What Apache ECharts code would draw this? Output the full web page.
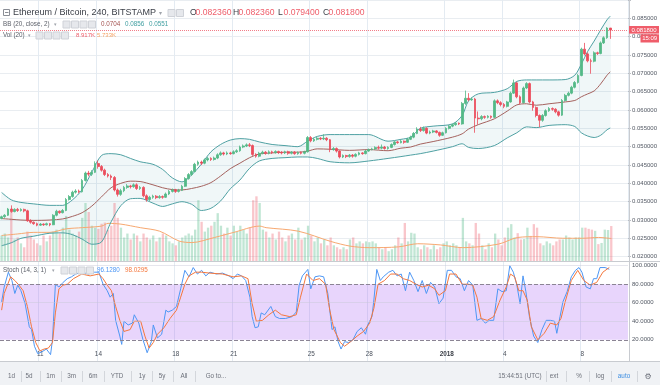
<!DOCTYPE html>
<html>
<head>
<meta charset="utf-8">
<script src="https://cdn.jsdelivr.net/npm/echarts@6/dist/echarts.min.js"></script>
<style>
html,body{margin:0;padding:0;background:#ffffff;}
#chart{width:660px;height:385px;}
</style>
</head>
<body>
<div id="chart"></div>
<script>
// ================= DATA =================
const symbolTitle = 'Ethereum / Bitcoin, 240, BITSTAMP';
const startTime = '2017-12-09T00:00:00Z';
const candleHours = 4;
const slotCount = 195;           // 190 candles + empty right margin
// candles in mBTC (x 0.001 BTC): [open, close, low, high]
const candles = [
[30.4,30.9,30.2,31.2],[30.9,31.3,30.6,31.6],[31.3,33.0,31.1,33.3],[33.0,32.3,32.0,34.0],[32.3,32.9,32.1,33.2],[32.9,32.6,32.2,33.3],
[32.6,32.9,32.3,33.2],[32.9,32.5,32.1,33.1],[32.5,29.8,29.5,32.8],[29.8,29.4,29.0,30.2],[29.4,29.0,28.7,29.6],[29.0,28.6,28.3,29.3],
[28.6,28.9,28.4,29.2],[28.9,28.7,28.4,29.1],[28.7,29.0,28.5,29.3],[29.0,28.7,28.3,29.2],[28.7,31.3,28.6,31.6],[31.3,32.4,31.0,32.8],
[32.4,32.0,31.7,32.6],[32.0,32.6,31.8,33.0],[32.6,35.6,32.4,36.0],[35.6,36.4,35.3,36.8],[36.4,37.6,36.1,38.0],[37.6,37.9,37.2,38.4],
[37.9,37.7,37.3,38.3],[37.7,40.8,37.5,41.2],[40.8,42.8,40.5,43.2],[42.8,42.5,41.9,43.4],[42.5,43.0,42.0,43.6],[43.0,45.4,42.8,46.0],
[45.4,44.6,44.0,46.2],[44.6,43.6,43.2,45.0],[43.6,42.4,42.0,44.0],[42.4,42.0,41.6,42.8],[42.0,41.6,40.9,42.4],[41.6,38.2,37.8,42.0],
[38.2,37.0,36.4,38.6],[37.0,38.0,36.6,38.5],[38.0,38.9,37.6,39.3],[38.9,39.3,38.5,39.8],[39.3,39.1,38.6,39.6],[39.1,39.6,38.8,40.0],
[39.6,38.6,38.2,40.0],[38.6,38.9,38.2,39.3],[38.9,36.6,36.2,39.2],[36.6,35.6,35.0,37.0],[35.6,36.2,35.2,36.6],[36.2,36.5,35.8,36.9],
[36.5,36.1,35.7,36.8],[36.1,36.4,35.8,36.8],[36.4,36.2,35.8,36.7],[36.2,37.1,36.0,37.5],[37.1,37.8,36.8,38.2],[37.8,38.2,37.5,38.6],
[38.2,37.8,37.4,38.5],[37.8,38.1,37.5,38.5],[38.1,39.2,37.9,39.6],[39.2,41.3,39.0,41.7],[41.3,42.4,41.0,42.8],[42.4,43.2,42.0,43.6],
[43.2,45.2,43.0,45.6],[45.2,45.8,44.8,46.2],[45.8,45.5,45.0,46.2],[45.5,46.4,45.2,46.8],[46.4,46.8,46.0,47.2],[46.8,46.5,46.1,47.1],
[46.5,46.9,46.2,47.3],[46.9,47.8,46.6,48.2],[47.8,48.3,47.5,48.7],[48.3,48.0,47.6,48.6],[48.0,48.3,47.7,48.7],[48.3,48.1,47.8,48.6],
[48.1,48.6,47.9,49.0],[48.6,48.9,48.3,49.3],[48.9,49.9,48.6,50.3],[49.9,50.2,49.6,50.6],[50.2,50.5,49.9,50.9],[50.5,50.3,49.9,51.0],
[50.3,47.9,47.5,50.6],[47.9,47.4,47.0,48.2],[47.4,48.2,47.1,48.6],[48.2,48.5,47.9,48.9],[48.5,48.2,47.8,48.8],[48.2,48.6,47.9,49.0],
[48.6,48.4,48.0,48.9],[48.4,48.7,48.1,49.0],[48.7,48.4,48.0,48.9],[48.4,48.3,47.9,48.8],[48.3,48.6,48.0,48.9],[48.6,48.2,47.8,48.9],
[48.2,48.5,47.9,48.8],[48.5,48.1,47.8,48.8],[48.1,48.4,47.8,48.7],[48.4,48.2,47.9,48.7],[48.2,48.6,47.9,48.9],[48.6,52.5,48.4,52.9],
[52.5,51.6,51.2,52.9],[51.6,52.0,51.3,52.4],[52.0,52.3,51.7,52.7],[52.3,52.1,51.8,52.6],[52.1,52.3,51.8,53.4],[52.3,51.9,51.5,52.6],
[51.9,49.2,48.5,52.1],[49.2,49.5,48.9,49.9],[49.5,48.8,48.4,49.8],[48.8,47.2,46.8,49.0],[47.2,47.6,46.9,47.9],[47.6,47.3,46.9,47.8],
[47.3,47.7,47.0,48.0],[47.7,47.4,47.0,48.0],[47.4,47.9,47.1,48.2],[47.9,48.3,47.6,48.6],[48.3,48.1,47.8,48.5],[48.1,48.8,47.9,49.1],
[48.8,49.2,48.6,49.5],[49.2,49.4,49.0,49.7],[49.4,49.8,49.1,50.1],[49.8,49.6,49.2,50.3],[49.6,49.9,49.3,50.6],[49.9,49.5,49.2,50.2],
[49.5,49.8,49.2,50.1],[49.8,50.6,49.6,50.9],[50.6,51.3,50.3,51.6],[51.3,51.1,50.8,51.6],[51.1,51.5,50.9,51.9],[51.5,51.2,50.8,51.7],
[51.2,52.0,51.0,52.4],[52.0,52.6,51.8,53.0],[52.6,53.6,52.3,54.0],[53.6,54.8,53.4,55.3],[54.8,54.4,54.0,55.4],[54.4,55.0,54.1,55.5],
[55.0,53.7,53.4,55.3],[53.7,54.0,53.4,54.4],[54.0,54.3,53.7,54.6],[54.3,53.9,53.6,54.5],[53.9,53.1,52.7,54.1],[53.1,53.8,52.9,54.1],
[53.8,55.0,53.6,55.3],[55.0,55.6,54.7,55.9],[55.6,56.0,55.3,56.3],[56.0,56.4,55.7,56.7],[56.4,56.2,55.9,56.6],[56.2,61.8,56.0,62.2],
[61.8,63.2,61.4,65.3],[63.2,62.8,62.4,64.6],[62.8,63.0,62.5,63.4],[63.0,57.8,53.8,63.3],[57.8,57.6,56.0,59.6],[57.6,58.2,57.2,58.6],
[58.2,58.0,57.6,58.5],[58.0,58.3,57.7,58.6],[58.3,58.0,57.6,58.5],[58.0,62.5,57.8,62.9],[62.5,62.0,61.6,62.9],[62.0,61.5,61.0,62.4],
[61.5,61.0,60.5,61.9],[61.0,62.2,60.7,62.5],[62.2,64.6,62.0,65.0],[64.6,67.4,64.4,68.3],[67.4,63.6,63.2,67.7],[63.6,62.0,61.5,64.0],
[62.0,66.0,61.8,66.4],[66.0,67.2,65.7,67.6],[67.2,62.2,61.8,67.5],[62.2,60.7,59.8,62.5],[60.7,58.5,58.0,61.0],[58.5,57.2,55.3,58.8],
[57.2,58.5,56.8,58.9],[58.5,59.8,58.2,60.2],[59.8,60.4,59.5,60.8],[60.4,60.2,59.8,60.7],[60.2,59.5,59.1,60.5],[59.5,58.6,58.2,59.8],
[58.6,62.6,58.4,63.0],[62.6,64.0,62.3,64.4],[64.0,64.6,63.7,65.0],[64.6,66.2,64.3,66.6],[66.2,67.5,65.9,67.9],[67.5,69.4,67.2,69.8],
[69.4,76.6,69.2,77.0],[76.6,75.3,74.9,78.3],[75.3,73.4,73.0,75.7],[73.4,73.3,69.9,74.0],[73.3,75.6,73.0,76.0],[75.6,75.4,75.0,75.9],
[75.4,78.3,75.2,78.7],[78.3,79.7,78.0,80.1],[79.7,82.36,79.4,82.6],[82.36,81.8,79.4,82.36]
];
// volume per candle, thousands of ETH
const volumeK = [
6.5,7.0,6.0,12.5,5.5,6.0,4.5,3.5,7.5,6.5,
5.5,4.5,4.0,6.5,5.0,6.5,7.5,8.0,7.0,8.5,
11.5,8.0,7.0,6.5,7.5,11.0,14.8,12.5,9.0,8.5,
8.2,9.5,9.8,8.0,9.0,14.8,11.0,8.5,6.0,7.0,
5.5,7.0,6.5,5.0,7.0,6.0,5.5,6.5,5.0,6.0,
7.0,6.5,5.0,4.5,4.0,5.0,6.0,6.5,7.0,6.5,
8.0,15.5,10.0,7.5,8.5,9.0,10.0,12.2,9.0,7.0,
8.5,6.5,9.0,7.5,9.0,8.0,7.0,8.5,15.5,16.5,
14.8,8.0,7.5,6.0,7.0,5.5,7.5,6.0,5.0,6.5,
7.0,5.5,8.5,5.5,6.0,9.0,6.5,5.0,6.0,4.5,
5.5,4.0,6.0,4.0,3.5,3.0,3.5,3.0,5.5,6.0,
4.5,5.0,4.5,5.0,4.8,5.0,4.5,3.5,3.0,3.5,
2.5,3.0,4.0,6.0,4.5,9.7,5.0,7.2,7.0,3.5,
3.0,4.0,3.5,3.0,4.0,3.0,3.5,4.5,5.0,4.0,
4.5,4.0,3.5,11.0,5.0,4.5,4.0,9.7,7.0,4.0,
3.0,4.5,3.5,7.0,5.5,4.0,6.0,8.5,9.4,6.0,
7.1,5.5,5.6,8.5,6.4,9.4,8.5,4.5,4.0,5.0,
4.5,4.0,5.0,5.5,5.5,6.5,6.0,5.5,6.0,6.0,
8.5,8.5,8.2,8.0,7.7,4.3,4.6,8.0,7.9,8.917
];
// Volume MA(20): [candle index, K]
const volMA = [[0,6.5],[5,6.9],[10,7.3],[15,7.3],[20,8.2],[25,8.5],[31,8.9],[33,9.6],[37,9.4],[43,8.5],[49,7.6],[55,5.1],[59,4.7],[66,6.0],[72,7.3],[80,8.9],[82,8.5],[92,7.6],[102,5.0],[108,3.8],[114,3.4],[123,3.6],[129,4.4],[136,4.1],[143,3.4],[154,4.3],[160,6.0],[166,6.2],[174,5.8],[180,5.8],[185,6.0],[189,5.733]];
// Bollinger Bands (20, close, 2), mBTC, read at these candle indices
const bbIndex  = [0,3,6,10,15,19,22,25,28,31,34,37,40,43,47,50,53,56,59,62,65,68,71,74,77,80,84,88,92,95,98,102,108,114,120,124,127,130,134,140,143,145,148,153,157,160,163,166,170,175,178,180,182,184,186,188,189];
const bbUpper  = [37.5,35.5,34.8,34.4,34.0,34.0,35.5,38.3,43.0,47.6,48.1,47.8,46.8,45.9,45.2,43.8,41.5,40.4,42.3,45.2,48.6,50.6,51.8,52.2,52.0,51.3,50.6,50.3,50.0,51.5,52.8,53.3,53.3,53.3,51.5,52.0,52.6,55.0,55.6,56.2,58.5,62.5,64.4,64.8,65.8,67.8,68.2,68.2,68.2,68.3,69.5,72.5,76.0,78.8,81.8,84.6,85.6];
const bbMiddle = [30.4,30.2,30.0,29.9,30.0,30.3,31.0,32.0,33.8,36.3,38.8,40.0,40.6,40.5,39.6,38.8,38.3,38.2,38.6,39.2,40.2,42.0,44.0,45.5,47.0,48.0,48.3,48.5,48.5,48.8,49.4,49.3,49.0,49.2,48.9,49.6,49.9,50.7,51.4,52.6,53.5,54.8,56.0,57.6,59.7,61.4,61.7,61.3,61.7,62.2,62.6,63.6,64.4,65.2,67.1,69.5,70.4];
const bbLower  = [23.0,23.8,25.0,25.6,26.4,26.5,26.0,24.8,23.4,24.0,29.5,33.9,35.8,35.9,34.6,33.7,34.4,35.0,34.3,32.6,33.2,35.2,38.5,40.9,44.1,46.1,46.8,47.0,47.2,47.2,46.8,45.9,45.6,46.1,46.8,47.3,47.7,48.1,48.8,50.0,50.8,49.8,49.5,50.3,52.4,53.8,55.4,55.2,55.8,56.0,55.5,53.8,52.9,52.5,53.1,54.6,55.1];
// Stochastic (14, 3, 1): [candle index, value]
const stochK = [[0,61],[0.8,77],[2.1,93],[3.2,84],[4.1,70],[5.0,79],[6.0,73],[7.3,59],[8.6,34],[9.3,31],[10.2,13],[11.2,5],[12.5,7],[13.9,10],[14.5,11],[15.2,4],[15.8,20],[16.7,80],[17.8,77],[19.1,82],[20.4,86],[21.7,88],[23.0,91],[24.9,93],[26.9,91],[28.9,93],[30.2,93],[31.5,80],[32.8,73],[33.7,66],[34.7,70],[35.4,41],[36.7,24],[37.3,15],[38.0,40],[39.3,36],[40.6,38],[41.2,47],[42.6,38],[43.9,20],[45.2,6],[46.5,18],[47.1,36],[48.4,22],[49.7,26],[51.0,52],[51.7,50],[53.0,52],[54.3,56],[55.6,75],[56.9,95],[58.2,88],[59.5,98],[60.8,91],[62.1,95],[63.4,89],[64.7,93],[66.7,91],[68.6,92],[70.6,89],[71.9,86],[73.2,91],[74.5,89],[75.8,84],[77.1,66],[77.8,45],[78.7,33],[79.7,34],[80.6,49],[81.7,47],[83.6,56],[85.0,45],[86.3,43],[88.2,43],[90.2,45],[91.5,50],[92.4,79],[93.4,89],[95.1,96],[96.0,75],[97.3,88],[98.7,89],[100.0,88],[101.3,70],[102.6,31],[103.5,34],[104.5,18],[105.4,10],[106.5,18],[107.8,17],[109.1,20],[110.4,29],[111.7,33],[113.0,26],[113.7,36],[115.0,45],[115.6,63],[116.5,96],[117.6,84],[118.5,88],[120.2,93],[121.5,95],[122.8,89],[124.1,91],[125.4,73],[126.7,93],[128.0,84],[129.3,72],[130.6,84],[131.9,70],[133.2,82],[134.5,77],[135.8,59],[137.1,65],[138.4,95],[139.7,95],[141.1,88],[142.4,86],[143.7,73],[145.0,84],[146.3,79],[147.6,41],[148.9,43],[150.2,38],[151.5,41],[152.8,41],[154.1,75],[155.4,72],[156.7,73],[157.8,100],[158.9,93],[160.0,79],[161.0,59],[161.9,89],[162.8,72],[163.9,45],[165.2,24],[166.5,17],[167.8,31],[169.1,41],[170.4,41],[171.7,40],[172.4,27],[173.4,45],[174.3,61],[175.6,72],[176.9,88],[178.2,95],[179.3,98],[180.2,93],[181.5,77],[182.8,75],[183.8,86],[184.8,86],[185.8,98],[187.4,98],[188.7,96.128]];
const stochD = [[0,52],[0.8,70],[2.8,88],[4.1,84],[5.4,79],[6.7,73],[8.0,56],[9.3,34],[10.6,17],[11.9,8],[13.2,10],[14.5,11],[15.8,17],[16.7,49],[17.8,75],[19.1,79],[20.4,80],[22.3,86],[24.9,91],[27.5,89],[30.2,91],[31.5,86],[32.8,79],[34.1,73],[35.4,56],[36.7,41],[38.0,29],[39.9,31],[41.2,40],[43.2,40],[44.5,24],[45.8,11],[47.1,17],[48.4,26],[50.4,33],[52.3,43],[54.3,52],[55.6,66],[56.9,80],[58.2,89],[60.2,93],[62.1,93],[64.7,92],[68.6,91],[71.9,88],[74.5,89],[76.5,86],[77.8,59],[79.1,40],[81.0,41],[83.0,47],[85.0,52],[86.9,47],[89.5,45],[91.5,47],[92.8,66],[94.7,91],[96.7,84],[98.7,86],[100.6,80],[101.9,52],[103.2,31],[105.2,17],[106.5,13],[108.4,18],[110.4,24],[112.4,29],[114.3,38],[115.6,54],[116.9,80],[118.9,84],[120.8,91],[122.8,91],[124.7,86],[126.7,84],[128.7,80],[130.6,77],[132.6,79],[134.5,75],[135.8,68],[137.8,73],[139.1,91],[141.1,91],[143.0,80],[145.0,80],[146.3,79],[147.6,66],[148.9,43],[150.8,41],[152.8,45],[154.8,63],[156.7,77],[158.0,91],[159.3,88],[160.6,73],[161.9,73],[163.2,63],[164.5,34],[166.5,20],[168.5,27],[170.4,38],[172.4,36],[173.7,43],[175.0,61],[176.9,84],[178.9,95],[180.8,84],[182.8,79],[184.8,82],[186.7,93],[188.7,98.03]];
// time-axis ticks
const tickDates  = ['2017-12-11','2017-12-14','2017-12-18','2017-12-21','2017-12-25','2017-12-28','2018-01-01','2018-01-04','2018-01-08'];
const tickLabels = ['11','14','18','21','25','28','2018','4','8'];
// stochastic scale: visible range and label step
const stochMin = 0, stochMax = 104, stochStep = 20;
const stochZeroLabel = '0.0000';
// legend texts
const ohlcLabels = ['O','H','L','C'];
const ohlcValues = ['0.082360','0.082360','0.079400','0.081800'];
const bbTitle = 'BB (20, close, 2)';
const bbValues = ['0.0704','0.0856','0.0551'];
const volTitle = 'Vol (20)';
const volValues = ['8.917K','5.733K'];
const stochTitle = 'Stoch (14, 3, 1)';
const stochValues = ['96.1280','98.0295'];
const lastPrice = 81.8;          // mBTC
const lastPriceText = '0.081800';
const countdown = '15:09';
const clockText = '15:44:51 (UTC)';
const rangeButtons = ['1d','5d','1m','3m','6m','YTD','1y','5y','All','Go to...'];
const rightButtons = ['ext','%','log','auto'];

// ================= BUILD =================
const FF = '"Liberation Sans", Arial, sans-serif';
const UP = '#53b987', DOWN = '#eb4d5c';
const t0 = Date.parse(startTime);
const categories = Array.from({length: slotCount}, (_, i) => {
  const d = new Date(t0 + i * candleHours * 3600e3);
  return d.toISOString().slice(0, 13).replace('T', ' ') + ':00';
});
const tickMap = {};
tickDates.forEach((d, k) => { tickMap[d + ' 00:00'] = tickLabels[k]; });
const isTick = (idx, val) => Object.prototype.hasOwnProperty.call(tickMap, val);

const volData = volumeK.map((v, i) => ({
  value: v,
  itemStyle: {color: candles[i][1] >= candles[i][0] ? 'rgba(83,185,135,0.36)' : 'rgba(235,77,92,0.32)'}
}));
const pairs = (xs, ys) => xs.map((x, k) => [x, ys[k]]);

const L = -1.4, R = 31;
const xVal = (grid) => ({type: 'value', gridIndex: grid, min: -0.5, max: slotCount - 0.5, show: false,
  axisLine: {onZero: false}});

const g = [];
function text(x, y, t, fill, size, opt = {}) {
  g.push({type: 'text', x, y, z: 100, silent: true,
    style: {text: t, fill, font: (opt.weight || 'normal') + ' ' + size + 'px ' + (opt.family || FF),
      align: opt.align || 'left', verticalAlign: 'middle'}});
}
function rect(x, y, w, h, fill, stroke) {
  g.push({type: 'rect', z: 99, silent: true, shape: {x, y, width: w, height: h},
    style: {fill: fill || 'none', stroke: stroke || null, lineWidth: 1}});
}
function line(x1, y1, x2, y2, stroke, z = 98) {
  g.push({type: 'line', z, silent: true, shape: {x1, y1, x2, y2}, style: {stroke, lineWidth: 1}});
}
function icons(x0, y, n) {
  for (let k = 0; k < n; k++) rect(x0 + k * 8.5, y - 3.5, 7, 7, '#e6e8ec', '#cfd2d8');
}
// pane separators & right axis
line(0, 261.5, 660, 261.5, '#c8cbd0');
line(629.5, 0, 629.5, 362, '#c8cbd0');
line(0, 361.5, 660, 361.5, '#c8cbd0');
// title row
rect(3.5, 9.5, 6, 6, '#fff', '#8a8e96'); line(5, 12.5, 8.5, 12.5, '#8a8e96', 100);
text(13, 13, symbolTitle, '#3a3e46', 9);
text(159, 13.5, '▾', '#a0a4ab', 6, {family: '"DejaVu Sans", sans-serif'});
icons(168, 13, 2);
const ohlcX = [190, 233, 278, 323];
ohlcLabels.forEach((lab, k) => {
  text(ohlcX[k], 13, lab, '#3a3e46', 8.6);
  text(ohlcX[k] + 5.6, 13, ohlcValues[k], '#ef5d6a', 8.6);
});
// BB row
text(3, 24.5, bbTitle, '#5d616a', 6.3);
text(54, 25, '▾', '#a0a4ab', 5, {family: '"DejaVu Sans", sans-serif'});
icons(63, 24.5, 4);
text(101, 24.5, bbValues[0], '#a3524f', 6.3);
text(125, 24.5, bbValues[1], '#3f9ea0', 6.3);
text(149, 24.5, bbValues[2], '#3f9ea0', 6.3);
// Vol row
text(3, 35.5, volTitle, '#5d616a', 6.3);
text(28, 36, '▾', '#a0a4ab', 5, {family: '"DejaVu Sans", sans-serif'});
icons(36, 35.5, 4);
text(76, 35.5, volValues[0], '#ef5d6a', 6);
text(97, 35.5, volValues[1], '#f5a466', 6);
// Stoch row
text(3, 270.5, stochTitle, '#5d616a', 6.3);
text(52, 271, '▾', '#a0a4ab', 5, {family: '"DejaVu Sans", sans-serif'});
icons(61, 270.5, 4);
text(97, 270.5, stochValues[0], '#4e97f5', 6.3);
text(125, 270.5, stochValues[1], '#f5773d', 6.3);
// last price tags
rect(629, 26, 30, 7.6, '#ef5d6a', null);
text(644, 29.9, lastPriceText, '#ffffff', 6, {align: 'center'});
rect(640.5, 34.3, 18.5, 8.2, '#ef5d6a', null);
text(649.7, 38.5, countdown, '#ffffff', 6, {align: 'center'});
// bottom toolbar
rect(0, 362, 660, 23, '#f0f2f5', null);
const btnX = [11.5, 29, 50.5, 71.5, 93, 117, 142, 162, 184, 216];
const sepX = [21, 40, 61, 82, 104, 131, 152, 173, 195];
rangeButtons.forEach((b, k) => text(btnX[k], 376.5, b, '#6c707a', 6.3, {align: 'center'}));
sepX.forEach(x => line(x + 0.5, 371, x + 0.5, 382, '#d3d6db', 100));
text(520, 376.5, clockText, '#6c707a', 6.3, {align: 'center'});
const rbX = [554, 579, 600, 624];
rightButtons.forEach((b, k) => text(rbX[k], 376.5, b, k === 3 ? '#3d8ee2' : '#6c707a', 6.3, {align: 'center'}));
[546, 566, 589, 611, 637].forEach(x => line(x + 0.5, 371, x + 0.5, 382, '#d3d6db', 100));
text(648, 376.5, '⚙', '#6c707a', 8, {align: 'center', family: '"DejaVu Sans", sans-serif'});

const axisLabelStyle = {color: '#525863', fontSize: 6, fontFamily: FF};
const SMOOTH = 0.3;
const isStep = v => Math.abs(v / stochStep - Math.round(v / stochStep)) < 1e-6;

const option = {
  animation: false,
  backgroundColor: '#ffffff',
  grid: [
    {left: L, right: R, top: -1.1, height: 257.8},     // price
    {left: L, right: R, top: 161, height: 100},        // volume
    {left: L, right: R, top: 262, height: 96.3},       // stochastic (0 at the bottom edge)
    {left: L, right: R, top: 262, height: 99}          // time axis of the lower pane
  ],
  xAxis: [
    {type: 'category', gridIndex: 0, data: categories, boundaryGap: true,
      axisLine: {show: false, onZero: false}, axisTick: {show: false, alignWithLabel: true, interval: isTick},
      axisLabel: {show: false, interval: isTick},
      splitLine: {show: true, interval: isTick, lineStyle: {color: '#e4ebf2', width: 1}}},
    xVal(0),
    {type: 'category', gridIndex: 1, data: categories, show: false, axisLine: {onZero: false}},
    xVal(1),
    xVal(2),
    {type: 'category', gridIndex: 3, data: categories, boundaryGap: true,
      axisLine: {show: false, onZero: false}, axisTick: {show: false, alignWithLabel: true, interval: isTick},
      axisLabel: {show: true, inside: true, margin: 4, interval: isTick,
        color: '#4a505b', fontSize: 6.4, fontFamily: FF,
        formatter: v => tickMap[v] === '2018' ? '{b|2018}' : (tickMap[v] || ''),
        rich: {b: {fontWeight: 'bold', fontSize: 6.4, color: '#3a3e46', fontFamily: FF}}},
      splitLine: {show: true, interval: isTick, lineStyle: {color: '#e4ebf2', width: 1}}}
  ],
  yAxis: [
    {type: 'value', gridIndex: 0, position: 'right', min: 20, max: 90, interval: 5,
      axisLine: {show: false, onZero: false}, axisTick: {show: true, length: 3, lineStyle: {color: '#b9bdc4'}},
      axisLabel: Object.assign({margin: 4, formatter: v => v >= 89 ? '' : (v / 1000).toFixed(6)}, axisLabelStyle),
      splitLine: {show: true, lineStyle: {color: '#e9edf1', width: 1}}},
    {type: 'value', gridIndex: 1, min: 0, max: 25.5, show: false, axisLine: {onZero: false}},
    {type: 'value', gridIndex: 2, position: 'right', min: stochMin, max: stochMax,
      minInterval: stochStep, maxInterval: stochStep, splitNumber: 5,
      axisLine: {show: false, onZero: false}, axisTick: {show: false},
      axisLabel: Object.assign({margin: 4, showMinLabel: false, showMaxLabel: true,
        formatter: v => isStep(v) && v > 0 && v <= 100 ? v.toFixed(4) : ''}, axisLabelStyle),
      splitLine: {show: false}},
    {type: 'value', gridIndex: 3, show: false, axisLine: {onZero: false}}
  ],
  series: [
    {name: 'BB fill', type: 'custom', xAxisIndex: 1, yAxisIndex: 0, data: [0], z: 1, silent: true,
      renderItem: (params, api) => {
        const up = bbIndex.map((x, k) => api.coord([x, bbUpper[k]]));
        const lo = bbIndex.map((x, k) => api.coord([x, bbLower[k]])).reverse();
        return {type: 'polygon', shape: {points: up.concat(lo), smooth: SMOOTH},
          style: {fill: 'rgba(60,155,160,0.08)', stroke: 'none'}};
      }},
    {name: 'Volume', type: 'bar', xAxisIndex: 2, yAxisIndex: 1, data: volData, barWidth: '72%', z: 2, silent: true},
    {name: 'VolMA', type: 'line', xAxisIndex: 3, yAxisIndex: 1, data: volMA, symbol: 'none', smooth: 0.3,
      lineStyle: {color: '#f7a870', width: 1}, z: 3, silent: true},
    {name: 'BB upper', type: 'line', xAxisIndex: 1, yAxisIndex: 0, data: pairs(bbIndex, bbUpper), symbol: 'none', smooth: SMOOTH,
      lineStyle: {color: '#4fa1a3', width: 1}, z: 4, silent: true},
    {name: 'BB lower', type: 'line', xAxisIndex: 1, yAxisIndex: 0, data: pairs(bbIndex, bbLower), symbol: 'none', smooth: SMOOTH,
      lineStyle: {color: '#4fa1a3', width: 1}, z: 4, silent: true},
    {name: 'BB basis', type: 'line', xAxisIndex: 1, yAxisIndex: 0, data: pairs(bbIndex, bbMiddle), symbol: 'none', smooth: SMOOTH,
      lineStyle: {color: '#a5625e', width: 1}, z: 4, silent: true},
    {name: 'ETHBTC', type: 'candlestick', xAxisIndex: 0, yAxisIndex: 0, data: candles, barWidth: '70%', z: 5, silent: true,
      itemStyle: {color: UP, color0: DOWN, borderColor: UP, borderColor0: DOWN, borderWidth: 0.8},
      markLine: {silent: true, symbol: 'none', label: {show: false},
        lineStyle: {color: '#ef5d6a', type: 'dotted', width: 1, opacity: 0.8},
        data: [{yAxis: lastPrice}]}},
    {name: '%K', type: 'line', xAxisIndex: 4, yAxisIndex: 2, data: stochK, symbol: 'none',
      lineStyle: {color: '#4e97f5', width: 1}, z: 4, silent: true,
      markArea: {silent: true, itemStyle: {color: 'rgba(170,100,245,0.27)'}, data: [[{yAxis: 20}, {yAxis: 80}]]},
      markLine: {silent: true, symbol: 'none', label: {show: false},
        lineStyle: {color: '#8b8494', type: 'dashed', width: 1},
        data: [{yAxis: 80}, {yAxis: 20}]}},
    {name: '%D', type: 'line', xAxisIndex: 4, yAxisIndex: 2, data: stochD, symbol: 'none',
      lineStyle: {color: '#f5773d', width: 1}, z: 4, silent: true,
      markLine: {silent: true, symbol: 'none', label: {show: false},
        lineStyle: {color: 'rgba(200,200,215,0.45)', type: 'solid', width: 1},
        data: [{yAxis: 100}, {yAxis: 60}, {yAxis: 40}]}},
    {name: 'Stoch zero label', type: 'line', xAxisIndex: 4, yAxisIndex: 2, data: [], symbol: 'none', z: 6, silent: true,
      markLine: {silent: true, symbol: 'none',
        lineStyle: {opacity: 0},
        label: {show: true, position: 'end', distance: 4, formatter: stochZeroLabel,
          color: '#525863', fontSize: 6, fontFamily: FF},
        data: [{yAxis: 1.6}]}}
  ],
  graphic: {elements: g}
};
const chart = echarts.init(document.getElementById('chart'));
chart.setOption(option);
</script>
</body>
</html>
